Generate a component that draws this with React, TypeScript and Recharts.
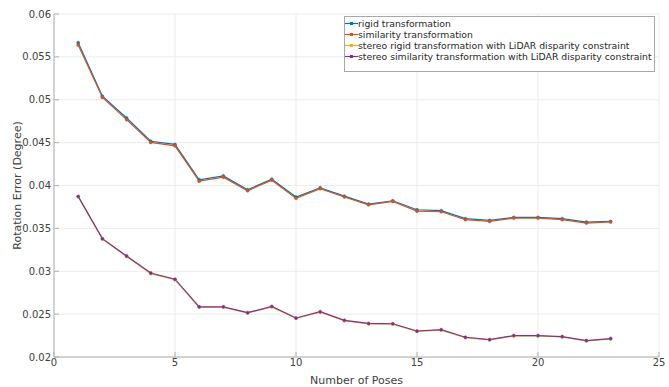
import { CartesianGrid, Line, LineChart, XAxis, YAxis } from 'recharts';

const poses = [1, 2, 3, 4, 5, 6, 7, 8, 9, 10, 11, 12, 13, 14, 15, 16, 17, 18, 19, 20, 21, 22, 23];

const rigid = [
  0.05666, 0.05042, 0.04787, 0.04516, 0.04479, 0.04066, 0.04112, 0.0395, 0.04074, 0.03865, 0.03973, 0.03876,
  0.03783, 0.03822, 0.03717, 0.03706, 0.03613, 0.03593, 0.03628, 0.03628, 0.03613, 0.03573, 0.03581,
];
const similarity = [
  0.05639, 0.05027, 0.04768, 0.04502, 0.04463, 0.0405, 0.04097, 0.03939, 0.04062, 0.0385, 0.03962, 0.03866,
  0.03775, 0.03814, 0.03701, 0.03694, 0.03601, 0.03581, 0.0362, 0.0362, 0.03601, 0.03562, 0.03575,
];
const stereoRigid = [
  0.03868, 0.03375, 0.03172, 0.02972, 0.02902, 0.0258, 0.0258, 0.02512, 0.02585, 0.0245, 0.02522, 0.02423,
  0.02386, 0.02384, 0.02298, 0.02314, 0.02225, 0.02199, 0.02245, 0.02245, 0.02233, 0.02188, 0.0221,
];
const stereoSimilarity = [
  0.03873, 0.0338, 0.03177, 0.0298, 0.02907, 0.02585, 0.02585, 0.02517, 0.0259, 0.02455, 0.02528, 0.02428,
  0.02392, 0.02388, 0.02303, 0.02319, 0.0223, 0.02203, 0.0225, 0.0225, 0.02238, 0.02192, 0.02215,
];

const xTicks = [0, 5, 10, 15, 20, 25];
const yTicks = [0.02, 0.025, 0.03, 0.035, 0.04, 0.045, 0.05, 0.055, 0.06];

const seriesNames = [
  'rigid transformation',
  'similarity transformation',
  'stereo rigid transformation with LiDAR disparity constraint',
  'stereo similarity transformation with LiDAR disparity constraint',
];
const colors = ['#0072BD', '#D95319', '#EDB120', '#7E2F8E'];

const data = poses.map((p, i) => ({
  pose: p,
  rigid: rigid[i],
  similarity: similarity[i],
  stereoRigid: stereoRigid[i],
  stereoSimilarity: stereoSimilarity[i],
}));

const keys = ['rigid', 'similarity', 'stereoRigid', 'stereoSimilarity'];

const font = 'DejaVu Sans, sans-serif';
const axisColor = '#b0b0b0';
const textColor = '#404040';

// drawn as an overlay so it doesn't eat into the plot width
function LegendBox() {
  return (
    <div
      style={{
        position: 'absolute',
        left: 344,
        top: 16,
        width: 309,
        height: 53,
        border: '1px solid #a8a8a8',
        background: '#fff',
        paddingTop: 1,
        fontFamily: font,
        fontSize: 9.3,
        color: '#262626',
        lineHeight: '11px',
      }}
    >
      {seriesNames.map((name, i) => (
        <div key={name} style={{ display: 'flex', alignItems: 'center', whiteSpace: 'nowrap', height: 11 }}>
          <svg width={13} height={11} style={{ flex: 'none' }}>
            <line x1={0} y1={5.5} x2={13} y2={5.5} stroke={colors[i]} strokeWidth={1.2} />
            <rect x={5} y={4} width={3} height={3} fill={colors[i]} />
          </svg>
          <span>{name}</span>
        </div>
      ))}
    </div>
  );
}

function App() {
  return (
    <div style={{ position: 'absolute', left: 0, top: 0, width: 669, height: 387, background: '#fff' }}>
      <LineChart width={669} height={387} data={data} margin={{ top: 14, right: 10, left: 0, bottom: 0 }}>
        <CartesianGrid stroke="#ececec" horizontalValues={yTicks} verticalValues={xTicks} />
        <XAxis
          type="number"
          dataKey="pose"
          domain={[0, 25]}
          ticks={xTicks}
          height={30}
          stroke={axisColor}
          tickSize={-5}
          tickMargin={7}
          tick={{ fill: textColor, fontSize: 10, fontFamily: font }}
          label={{ value: 'Number of Poses', position: 'insideBottom', offset: 3, fill: textColor, fontSize: 11, fontFamily: font }}
        />
        <YAxis
          type="number"
          domain={[0.02, 0.06]}
          ticks={yTicks}
          width={54}
          stroke={axisColor}
          tickSize={-5}
          tickMargin={8}
          tick={{ fill: textColor, fontSize: 10, fontFamily: font }}
          label={{
            value: 'Rotation Error (Degree)',
            angle: -90,
            position: 'insideLeft',
            offset: 17,
            style: { textAnchor: 'middle' },
            fill: textColor,
            fontSize: 11,
            fontFamily: font,
          }}
        />
        {keys.map((k, i) => (
          <Line
            key={k}
            type="linear"
            dataKey={k}
            name={seriesNames[i]}
            stroke={colors[i]}
            strokeWidth={1.2}
            dot={{ r: 1.5, fill: colors[i], stroke: colors[i], strokeWidth: 0.5 }}
            isAnimationActive={false}
          />
        ))}
      </LineChart>
      <LegendBox />
    </div>
  );
}

export default App;
